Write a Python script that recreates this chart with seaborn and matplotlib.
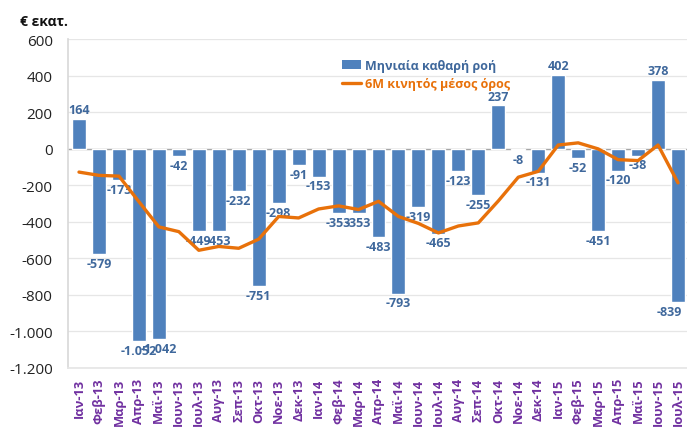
import matplotlib
matplotlib.use("Agg")
import matplotlib.pyplot as plt
import seaborn as sns
import pandas as pd
import numpy as np
from matplotlib.ticker import FuncFormatter
from matplotlib.patches import Patch
from matplotlib.lines import Line2D

months = ["Ιαν-13", "Φεβ-13", "Μαρ-13", "Απρ-13", "Μαϊ-13", "Ιουν-13", "Ιουλ-13", "Αυγ-13",
          "Σεπ-13", "Οκτ-13", "Νοε-13", "Δεκ-13", "Ιαν-14", "Φεβ-14", "Μαρ-14", "Απρ-14",
          "Μαϊ-14", "Ιουν-14", "Ιουλ-14", "Αυγ-14", "Σεπ-14", "Οκτ-14", "Νοε-14", "Δεκ-14",
          "Ιαν-15", "Φεβ-15", "Μαρ-15", "Απρ-15", "Μαϊ-15", "Ιουν-15", "Ιουλ-15"]
monthly_flow = [164, -579, -173, -1052, -1042, -42, -449, -453, -232, -751, -298, -91,
                -153, -353, -353, -483, -793, -319, -465, -123, -255, 237, -8, -131,
                402, -52, -451, -120, -38, 378, -839]
moving_avg_6m = [-128, -146, -150, -290, -428, -454, -556, -535, -545, -495, -371, -379,
                 -330, -313, -333, -288, -371, -409, -461, -423, -406, -286, -156, -124,
                 20, 32, -1, -60, -65, 20, -187]

series_bar = "Μηνιαία καθαρή ροή"
series_line = "6M κινητός μέσος όρος"
y_label = "€ εκατ."
yticks = [600, 400, 200, 0, -200, -400, -600, -800, -1000, -1200]

BAR = "#4F81BD"
LABEL = "#3F689C"
ORANGE = "#E8710A"
PURPLE = "#7030A0"

sns.set_theme(style="white")
plt.rcParams['font.family'] = ['Open Sans', 'Noto Sans', 'DejaVu Sans']

def gr(v):
    s = f"{abs(int(round(v))):,}".replace(",", ".")
    return ("-" if v < 0 else "") + s

df = pd.DataFrame({"month": months, "flow": monthly_flow, "ma": moving_avg_6m})

fig = plt.figure(figsize=(6.87, 4.31), dpi=100)
ax = fig.add_axes([0.099, 0.144, 0.901, 0.763])

sns.barplot(data=df, x="month", y="flow", color=BAR, saturation=1, width=0.7, ax=ax, zorder=2)
anns = []
for c in ax.containers:
    anns += ax.bar_label(c, labels=[gr(v) for v in monthly_flow], padding=2, color=LABEL,
                         fontsize=9, fontweight="bold")
if anns:
    last = anns[-1]
    dx, dy = last.xyann
    last.xyann = (dx - 6, dy)

sns.lineplot(data=df, x="month", y="ma", sort=False, color=ORANGE, lw=2.4, ax=ax, zorder=3)

ax.set_ylim(-1200, 600)
ax.set_xlim(-0.55, 30.45)
ax.set_yticks(yticks)
ax.yaxis.set_major_formatter(FuncFormatter(lambda v, p: gr(v)))
ax.grid(axis="y", color="#E6E6E6", lw=0.9, zorder=0)
ax.set_axisbelow(True)
ax.axhline(0, color="#A6A6A6", lw=1, zorder=1)
for s in ["top", "right"]:
    ax.spines[s].set_visible(False)
ax.spines["left"].set_color("#D9D9D9")
ax.spines["bottom"].set_color("#E6E6E6")
ax.set_xlabel("")
ax.set_ylabel("")
ax.tick_params(axis="y", labelsize=11, colors="#222222", length=0, pad=11)
ax.tick_params(axis="x", length=0, pad=7)
for t in ax.get_xticklabels():
    t.set_rotation(90)
    t.set_color(PURPLE)
    t.set_fontweight("bold")
    t.set_fontsize(9.3)

fig.text(20 / 687, 1 - 22 / 431, y_label, fontsize=10, fontweight="bold", color="#111111",
         va="center", ha="left")

handles = [Patch(facecolor=BAR, edgecolor="none"), Line2D([0], [0], color=ORANGE, lw=2.4)]
leg = ax.legend(handles, [series_bar, series_line], loc="upper left",
                bbox_to_anchor=(0.425, 0.975), frameon=False, handlelength=1.5,
                handletextpad=0.3, labelspacing=0.45, prop={"size": 9, "weight": "bold"})
leg.get_texts()[0].set_color(LABEL)
leg.get_texts()[1].set_color(ORANGE)

fig.savefig("out.png", dpi=100)
